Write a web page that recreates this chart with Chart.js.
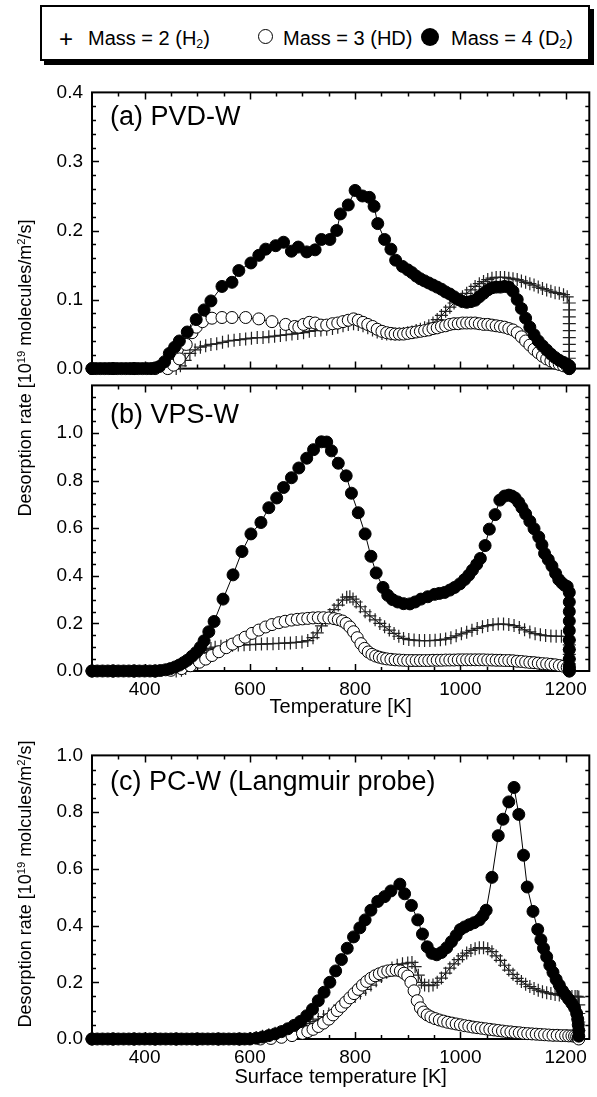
<!DOCTYPE html>
<html>
<head>
<meta charset="utf-8">
<script src="https://cdn.jsdelivr.net/npm/chart.js@4.4.1/dist/chart.umd.min.js"></script>
<style>
  body { margin: 0; background: #fff; }
  #page { position: relative; width: 597px; height: 1097px; overflow: hidden; font-family: "Liberation Sans", Arial, sans-serif; color: #000; }
  canvas { position: absolute; left: 0; }
  .txt { position: absolute; white-space: nowrap; line-height: 1; }
  .panel { font-size: 27px; left: 110px; }
  .ytitle { font-size: 18px; transform: translate(-50%, -50%) rotate(-90deg); }
  sup { font-size: 0.62em; vertical-align: 0.55em; line-height: 0; }
  sub { font-size: 0.62em; vertical-align: -0.25em; line-height: 0; }
  #legend { position: absolute; left: 40px; top: 5px; width: 546px; height: 52px; border: 2px solid #000; box-shadow: 4px 4px 0 #000; background: #fff; }
  .leg { font-size: 20px; top: 28px; }
  .open { position: absolute; width: 13px; height: 13px; border: 1.5px solid #000; border-radius: 50%; background: #fff; }
  .fill { position: absolute; width: 18px; height: 18px; border-radius: 50%; background: #000; }
</style>
</head>
<body>
<div id="page">
  <canvas id="panel-a" width="597" height="317" style="top:72px"></canvas>
  <canvas id="panel-b" width="597" height="354" style="top:365px"></canvas>
  <canvas id="panel-c" width="597" height="354" style="top:735px"></canvas>

  <div id="legend"></div>
  <div class="txt leg" style="left:59px; top:27px; font-size:24px;">+</div>
  <div class="txt leg" style="left:88px;">Mass = 2 (H<sub>2</sub>)</div>
  <div class="open" style="left:258px; top:29px;"></div>
  <div class="txt leg" style="left:283px;">Mass = 3 (HD)</div>
  <div class="fill" style="left:421px; top:28px;"></div>
  <div class="txt leg" style="left:451px;">Mass = 4 (D<sub>2</sub>)</div>

  <div class="txt panel" style="top:103px;">(a) PVD-W</div>
  <div class="txt panel" style="top:401px;">(b) VPS-W</div>
  <div class="txt panel" style="top:768px;">(c) PC-W (Langmuir probe)</div>

  <div class="txt ytitle" style="left:25px; top:368px;">Desorption rate [10<sup>19</sup> molecules/m<sup>2</sup>/s]</div>
  <div class="txt ytitle" style="left:25px; top:884px;">Desorption rate [10<sup>19</sup> molcules/m<sup>2</sup>/s]</div>
</div>

<script>
const FONT = '"Liberation Sans", Arial, sans-serif';

// temperature axis (K), shared by all three panels
const tempMin = 300;
const tempMax = 1245;
const tempTicks = [400, 600, 800, 1000, 1200];
const tempMinor = 50;

// (a) PVD-W  [temperature K, rate 1e19 /m2/s]
const aRateMax = 0.4;
const aRateTicks = [0, 0.1, 0.2, 0.3, 0.4];
const aRateMinor = 0.02;
const aD2 = [[300,0],[308,0],[316,0],[324,0],[332,0],[340,0],[348,0],[356,0],[364,0],[372,0],[380,0],[388,0],[396,0],[404,0],[412,0],[420,0.001],[428,0.003],[438,0.01],[447,0.022],[457,0.031],[466,0.04],[481,0.053],[498,0.071],[513,0.085],[526,0.098],[547,0.119],[566,0.125],[579,0.142],[602,0.153],[617,0.164],[630,0.173],[649,0.178],[664,0.183],[679,0.17],[692,0.176],[708,0.169],[724,0.172],[736,0.187],[752,0.187],[765,0.2],[772,0.224],[787,0.237],[800,0.258],[814,0.25],[827,0.248],[836,0.235],[843,0.21],[856,0.187],[868,0.173],[877,0.157],[890,0.148],[900,0.143],[908,0.139],[916,0.134],[924,0.13],[932,0.127],[940,0.124],[948,0.121],[956,0.118],[964,0.115],[972,0.111],[980,0.108],[988,0.104],[996,0.1],[1004,0.097],[1012,0.096],[1020,0.097],[1028,0.099],[1036,0.104],[1044,0.109],[1052,0.114],[1060,0.117],[1068,0.118],[1076,0.118],[1084,0.119],[1092,0.118],[1100,0.112],[1108,0.1],[1116,0.087],[1124,0.073],[1132,0.06],[1140,0.049],[1148,0.04],[1156,0.033],[1164,0.027],[1172,0.021],[1180,0.016],[1188,0.012],[1196,0.009],[1203,0.006],[1207,0.004],[1207,0.002],[1207,0]];
const aHD = [[300,0],[340,0],[380,0],[420,0],[444,0],[455,0.005],[466,0.014],[479,0.035],[490,0.052],[498,0.06],[510,0.068],[528,0.073],[547,0.074],[566,0.074],[592,0.074],[617,0.072],[642,0.068],[668,0.064],[685,0.061],[693,0.06],[702,0.064],[713,0.067],[724,0.066],[735,0.063],[746,0.063],[757,0.065],[767,0.066],[777,0.068],[787,0.07],[797,0.072],[806,0.07],[815,0.067],[824,0.064],[833,0.061],[842,0.057],[851,0.054],[860,0.052],[868,0.051],[876,0.05],[884,0.05],[892,0.05],[900,0.051],[908,0.052],[916,0.053],[924,0.054],[932,0.055],[940,0.056],[948,0.058],[956,0.059],[964,0.061],[972,0.062],[980,0.064],[988,0.065],[996,0.065],[1004,0.066],[1012,0.066],[1020,0.066],[1028,0.066],[1036,0.065],[1044,0.064],[1052,0.064],[1060,0.063],[1068,0.062],[1076,0.061],[1084,0.06],[1092,0.058],[1100,0.056],[1108,0.052],[1116,0.046],[1124,0.04],[1132,0.034],[1140,0.028],[1148,0.023],[1156,0.018],[1164,0.014],[1172,0.011],[1180,0.008],[1188,0.006],[1196,0.004],[1203,0.003],[1207,0.001],[1207,0]];
const aH2 = [[300,0],[340,0],[380,0],[420,0],[460,0],[468,0.004],[477,0.012],[486,0.022],[496,0.027],[506,0.031],[516,0.033],[526,0.035],[537,0.036],[548,0.038],[559,0.04],[570,0.041],[581,0.042],[592,0.043],[603,0.044],[614,0.045],[625,0.045],[636,0.046],[647,0.047],[658,0.048],[669,0.049],[680,0.05],[691,0.051],[702,0.052],[713,0.054],[724,0.055],[735,0.056],[746,0.057],[757,0.058],[767,0.06],[777,0.062],[787,0.064],[797,0.065],[806,0.064],[815,0.062],[824,0.059],[833,0.056],[842,0.053],[851,0.051],[860,0.05],[868,0.05],[876,0.05],[884,0.05],[892,0.051],[900,0.052],[908,0.053],[916,0.055],[924,0.057],[932,0.059],[940,0.062],[948,0.066],[956,0.071],[964,0.077],[972,0.083],[980,0.089],[988,0.095],[996,0.1],[1004,0.104],[1012,0.109],[1020,0.114],[1028,0.119],[1036,0.123],[1044,0.126],[1052,0.129],[1060,0.131],[1068,0.132],[1076,0.132],[1084,0.132],[1092,0.131],[1100,0.13],[1108,0.129],[1116,0.127],[1124,0.125],[1132,0.123],[1140,0.121],[1148,0.118],[1156,0.116],[1164,0.114],[1172,0.112],[1180,0.11],[1188,0.109],[1196,0.107],[1203,0.104],[1207,0.095],[1207,0.085],[1207,0.075],[1207,0.065],[1207,0.055],[1207,0.045],[1207,0.035],[1207,0.025],[1207,0.015],[1207,0.006]];

// (b) VPS-W
const bRateMax = 1.2;
const bRateTicks = [0, 0.2, 0.4, 0.6, 0.8, 1.0];
const bRateMinor = 0.05;
const bD2 = [[300,0],[310,0],[320,0],[330,0],[340,0],[350,0],[360,0],[370,0],[380,0],[390,0],[400,0],[410,0],[420,0],[430,0.002],[440,0.005],[449,0.01],[458,0.017],[466,0.025],[474,0.035],[481,0.045],[490,0.062],[498,0.078],[506,0.1],[513,0.127],[522,0.165],[532,0.208],[549,0.302],[568,0.404],[585,0.502],[602,0.576],[621,0.624],[636,0.686],[651,0.727],[664,0.771],[679,0.812],[693,0.853],[708,0.894],[721,0.93],[736,0.963],[746,0.962],[755,0.925],[768,0.873],[783,0.82],[793,0.747],[806,0.665],[819,0.576],[830,0.482],[840,0.412],[853,0.351],[862,0.318],[871,0.3],[881,0.29],[892,0.283],[904,0.282],[914,0.29],[925,0.302],[938,0.312],[951,0.322],[960,0.326],[970,0.33],[980,0.34],[989,0.351],[999,0.366],[1008,0.384],[1016,0.403],[1023,0.424],[1031,0.448],[1038,0.473],[1047,0.527],[1055,0.596],[1066,0.657],[1075,0.718],[1084,0.735],[1092,0.739],[1098,0.735],[1104,0.727],[1111,0.708],[1117,0.686],[1124,0.66],[1132,0.629],[1140,0.598],[1149,0.563],[1155,0.53],[1160,0.494],[1167,0.468],[1174,0.441],[1181,0.41],[1187,0.384],[1193,0.37],[1198,0.36],[1203,0.355],[1207,0.33],[1207,0.29],[1207,0.25],[1207,0.21],[1207,0.17],[1207,0.13],[1207,0.09],[1207,0.05],[1207,0.02],[1207,0]];
const bHD = [[300,0],[340,0],[380,0],[420,0],[450,0.003],[470,0.01],[487,0.022],[504,0.037],[516,0.05],[528,0.065],[541,0.081],[555,0.098],[567,0.113],[579,0.127],[591,0.142],[604,0.158],[617,0.172],[630,0.185],[642,0.195],[655,0.203],[667,0.209],[679,0.214],[690,0.217],[700,0.219],[710,0.221],[720,0.223],[730,0.224],[740,0.224],[750,0.223],[760,0.22],[768,0.216],[776,0.21],[783,0.2],[790,0.185],[797,0.165],[804,0.14],[811,0.115],[818,0.095],[825,0.08],[832,0.07],[839,0.063],[846,0.058],[853,0.054],[860,0.051],[868,0.049],[876,0.047],[884,0.046],[892,0.045],[900,0.044],[908,0.044],[916,0.044],[924,0.044],[932,0.044],[940,0.044],[948,0.045],[956,0.045],[964,0.045],[972,0.046],[980,0.046],[988,0.046],[996,0.047],[1004,0.047],[1012,0.047],[1020,0.047],[1028,0.047],[1036,0.047],[1044,0.047],[1052,0.046],[1060,0.046],[1068,0.045],[1076,0.045],[1084,0.044],[1092,0.044],[1100,0.043],[1108,0.041],[1116,0.04],[1124,0.038],[1132,0.036],[1140,0.035],[1148,0.033],[1156,0.031],[1164,0.03],[1172,0.028],[1180,0.026],[1188,0.023],[1196,0.02],[1203,0.015],[1207,0.008],[1207,0]];
const bH2 = [[300,0],[340,0],[380,0],[420,0],[460,0],[470,0.003],[478,0.01],[486,0.03],[494,0.05],[502,0.065],[510,0.078],[518,0.088],[526,0.095],[534,0.1],[545,0.104],[556,0.106],[567,0.108],[578,0.109],[589,0.11],[600,0.111],[611,0.112],[622,0.113],[633,0.114],[644,0.115],[655,0.116],[666,0.117],[677,0.118],[688,0.12],[699,0.122],[710,0.128],[720,0.14],[728,0.16],[736,0.19],[744,0.215],[752,0.237],[760,0.258],[768,0.277],[776,0.298],[784,0.31],[790,0.312],[796,0.302],[802,0.29],[810,0.27],[819,0.249],[828,0.232],[838,0.215],[847,0.2],[856,0.186],[865,0.172],[874,0.158],[883,0.146],[892,0.137],[902,0.132],[912,0.13],[922,0.128],[932,0.128],[942,0.128],[952,0.129],[962,0.131],[972,0.134],[982,0.14],[992,0.148],[1002,0.156],[1012,0.163],[1022,0.171],[1032,0.179],[1042,0.186],[1052,0.191],[1062,0.195],[1072,0.197],[1082,0.197],[1092,0.195],[1102,0.191],[1112,0.183],[1122,0.173],[1132,0.164],[1142,0.157],[1152,0.152],[1162,0.149],[1172,0.147],[1182,0.146],[1192,0.146],[1200,0.145],[1207,0.13],[1207,0.11],[1207,0.09],[1207,0.07],[1207,0.05],[1207,0.03],[1207,0.015],[1207,0.005]];

// (c) PC-W (Langmuir probe)
const cRateMax = 1.0;
const cRateTicks = [0, 0.2, 0.4, 0.6, 0.8, 1.0];
const cRateMinor = 0.05;
const cD2 = [[300,0],[310,0],[320,0],[330,0],[340,0],[350,0],[360,0],[370,0],[380,0],[390,0],[400,0],[410,0],[420,0],[430,0],[440,0],[450,0],[460,0],[470,0],[480,0],[490,0],[500,0],[510,0],[520,0],[530,0],[540,0],[550,0],[560,0],[570,0],[580,0],[590,0],[600,0],[612,0.003],[624,0.007],[636,0.012],[648,0.018],[660,0.026],[672,0.036],[684,0.048],[696,0.062],[708,0.082],[719,0.105],[730,0.135],[741,0.165],[752,0.2],[763,0.24],[774,0.28],[785,0.32],[797,0.36],[809,0.392],[819,0.42],[830,0.454],[843,0.485],[856,0.502],[868,0.522],[885,0.546],[894,0.512],[907,0.471],[919,0.42],[928,0.37],[937,0.325],[946,0.302],[955,0.297],[964,0.305],[974,0.322],[983,0.343],[992,0.365],[1000,0.386],[1008,0.395],[1017,0.403],[1026,0.41],[1036,0.42],[1043,0.435],[1049,0.454],[1060,0.57],[1072,0.717],[1081,0.775],[1092,0.836],[1102,0.887],[1111,0.792],[1120,0.648],[1127,0.536],[1138,0.45],[1147,0.386],[1153,0.35],[1158,0.32],[1164,0.29],[1170,0.26],[1176,0.235],[1182,0.21],[1188,0.19],[1194,0.17],[1200,0.155],[1206,0.14],[1212,0.125],[1217,0.11],[1221,0.09],[1223,0.07],[1224,0.05],[1225,0.03],[1225,0.01]];
const cHD = [[300,0],[340,0],[380,0],[420,0],[460,0],[500,0],[540,0],[580,0],[620,0],[640,0.002],[660,0.006],[680,0.012],[700,0.02],[710,0.026],[720,0.034],[730,0.044],[740,0.056],[750,0.07],[758,0.085],[766,0.1],[774,0.115],[782,0.13],[790,0.145],[798,0.16],[806,0.175],[814,0.19],[822,0.203],[830,0.214],[838,0.223],[846,0.23],[854,0.236],[862,0.24],[870,0.242],[878,0.243],[886,0.24],[893,0.232],[900,0.222],[906,0.2],[912,0.17],[918,0.135],[924,0.11],[930,0.095],[937,0.085],[944,0.078],[952,0.072],[960,0.067],[968,0.063],[976,0.059],[984,0.056],[992,0.053],[1000,0.05],[1008,0.047],[1016,0.045],[1024,0.042],[1032,0.04],[1040,0.038],[1048,0.036],[1056,0.034],[1064,0.032],[1072,0.03],[1080,0.028],[1088,0.026],[1096,0.025],[1104,0.023],[1112,0.022],[1120,0.02],[1128,0.019],[1136,0.018],[1144,0.017],[1152,0.016],[1160,0.015],[1168,0.014],[1176,0.013],[1184,0.013],[1192,0.012],[1200,0.012],[1206,0.011],[1212,0.011],[1217,0.01],[1221,0.008],[1224,0.004],[1225,0]];
const cH2 = [[300,0],[340,0],[380,0],[420,0],[460,0],[500,0],[540,0],[580,0],[600,0.002],[612,0.005],[624,0.01],[636,0.015],[648,0.02],[660,0.026],[672,0.033],[684,0.04],[696,0.047],[708,0.054],[720,0.062],[730,0.07],[740,0.079],[750,0.088],[760,0.1],[770,0.112],[780,0.125],[790,0.138],[800,0.15],[810,0.162],[820,0.175],[830,0.19],[840,0.205],[850,0.22],[860,0.235],[870,0.25],[880,0.26],[890,0.265],[900,0.268],[908,0.27],[914,0.255],[920,0.225],[926,0.2],[932,0.19],[940,0.188],[948,0.19],[956,0.2],[964,0.215],[972,0.232],[980,0.25],[988,0.265],[996,0.28],[1004,0.293],[1012,0.303],[1020,0.312],[1028,0.318],[1036,0.322],[1044,0.322],[1052,0.318],[1060,0.308],[1068,0.293],[1076,0.277],[1084,0.26],[1092,0.243],[1100,0.228],[1108,0.214],[1116,0.203],[1124,0.193],[1132,0.185],[1140,0.178],[1148,0.172],[1156,0.167],[1164,0.163],[1172,0.16],[1180,0.157],[1188,0.155],[1196,0.153],[1204,0.151],[1212,0.15],[1218,0.15],[1222,0.15],[1225,0.148],[1225,0.12],[1225,0.09],[1225,0.06],[1225,0.03]];

// frame with inward ticks on all four sides
const frameTicks = {
    id: 'frameTicks',
    beforeDatasetsDraw(chart, args, opts) {
        const ctx = chart.ctx;
        const area = chart.chartArea;
        const x = chart.scales.x;
        const y = chart.scales.y;
        ctx.save();
        ctx.strokeStyle = '#000';
        ctx.lineWidth = 1.5;
        ctx.beginPath();
        for (let t = tempMin + tempMinor; t < tempMax; t += tempMinor) {
            const px = Math.round(x.getPixelForValue(t)) + 0.5;
            const len = tempTicks.includes(t) ? 7 : 4;
            ctx.moveTo(px, area.bottom); ctx.lineTo(px, area.bottom - len);
            ctx.moveTo(px, area.top); ctx.lineTo(px, area.top + len);
        }
        const n = Math.round((y.max - y.min) / opts.minor);
        for (let i = 1; i < n; i++) {
            const v = y.min + i * opts.minor;
            const py = Math.round(y.getPixelForValue(v)) + 0.5;
            const major = opts.major.some(m => Math.abs(m - v) < 1e-6);
            const len = major ? 7 : 4;
            ctx.moveTo(area.left, py); ctx.lineTo(area.left + len, py);
            ctx.moveTo(area.right, py); ctx.lineTo(area.right - len, py);
        }
        ctx.stroke();
        ctx.lineWidth = 2;
        ctx.strokeRect(area.left, area.top, area.right - area.left, area.bottom - area.top);
        ctx.restore();
    }
};

function toPoints(pairs) {
    return pairs.map(p => ({ x: p[0], y: p[1] }));
}

function drawPanel(canvasId, d2, hd, h2, rateMax, rateTicks, rateMinor, xTitle, xHeight) {
    return new Chart(document.getElementById(canvasId), {
        type: 'scatter',
        data: {
            datasets: [{
                label: 'Mass = 4 (D2)',
                data: toPoints(d2),
                showLine: true,
                borderColor: '#000',
                borderWidth: 1,
                pointStyle: 'circle',
                pointRadius: 6,
                pointBackgroundColor: '#000',
                pointBorderColor: '#000',
                pointBorderWidth: 1,
                clip: false
            }, {
                label: 'Mass = 3 (HD)',
                data: toPoints(hd),
                showLine: true,
                borderColor: '#000',
                borderWidth: 1,
                pointStyle: 'circle',
                pointRadius: 6,
                pointBackgroundColor: '#fff',
                pointBorderColor: '#000',
                pointBorderWidth: 1,
                clip: false
            }, {
                label: 'Mass = 2 (H2)',
                data: toPoints(h2),
                showLine: true,
                borderColor: '#000',
                borderWidth: 1,
                pointStyle: 'cross',
                pointRadius: 6.5,
                pointBorderColor: '#222',
                pointBorderWidth: 1.2,
                clip: false
            }]
        },
        options: {
            responsive: false,
            animation: false,
            events: [],
            layout: { padding: { top: 12, right: 3, bottom: xTitle ? 0 : 12, left: 0 } },
            plugins: {
                legend: { display: false },
                tooltip: { enabled: false },
                frameTicks: { major: rateTicks, minor: rateMinor }
            },
            scales: {
                x: {
                    type: 'linear',
                    min: tempMin,
                    max: tempMax,
                    display: !!xTitle,
                    grid: { display: false, drawTicks: false },
                    border: { display: false },
                    afterBuildTicks: s => { s.ticks = tempTicks.map(v => ({ value: v })); },
                    afterFit: s => { s.height = xHeight; },
                    ticks: { padding: 7, color: '#000', autoSkip: false, maxRotation: 0, font: { size: 19, family: FONT }, callback: v => String(v) },
                    title: { display: !!xTitle, text: xTitle, color: '#000', padding: { top: 0, bottom: 0 }, font: { size: 20, family: FONT } }
                },
                y: {
                    type: 'linear',
                    min: 0,
                    max: rateMax,
                    grid: { display: false, drawTicks: false },
                    border: { display: false },
                    afterBuildTicks: s => { s.ticks = rateTicks.map(v => ({ value: v })); },
                    afterFit: s => { s.width = 92; },
                    ticks: { padding: 9, color: '#000', autoSkip: false, font: { size: 19, family: FONT }, callback: v => v.toFixed(1) }
                }
            }
        },
        plugins: [frameTicks]
    });
}

drawPanel('panel-a', aD2, aHD, aH2, aRateMax, aRateTicks, aRateMinor, '', 0);
drawPanel('panel-b', bD2, bHD, bH2, bRateMax, bRateTicks, bRateMinor, 'Temperature [K]', 48);
drawPanel('panel-c', cD2, cHD, cH2, cRateMax, cRateTicks, cRateMinor, 'Surface temperature [K]', 50);
</script>
</body>
</html>
